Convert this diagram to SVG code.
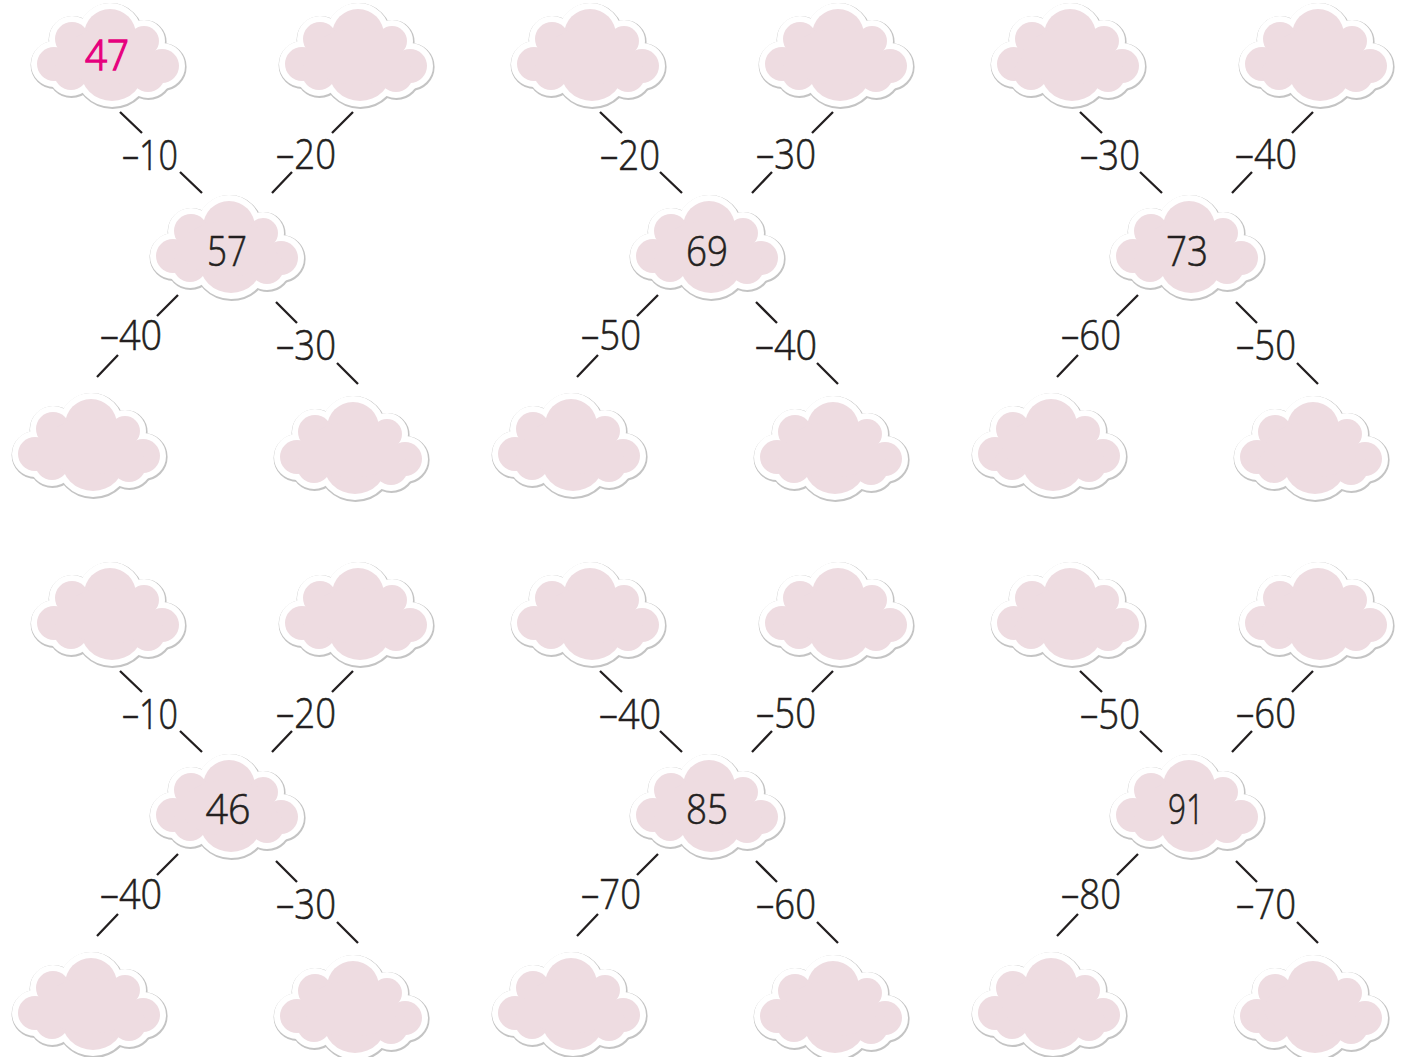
<svg xmlns="http://www.w3.org/2000/svg" xmlns:xlink="http://www.w3.org/1999/xlink" width="1408" height="1057" viewBox="0 0 1408 1057">
<style>
.ln{stroke:#231f20;stroke-width:2.3;stroke-linecap:butt;fill:none}
.lb{font-family:"Open Sans","Liberation Sans",Arial,sans-serif;font-weight:300;font-size:42px;fill:#231f20;stroke:#231f20;stroke-width:0.6;text-anchor:middle}
.num{font-family:"Open Sans","Liberation Sans",Arial,sans-serif;font-weight:300;font-size:42px;fill:#231f20;stroke:#231f20;stroke-width:0.6;text-anchor:middle}
.pk{fill:#e6007e;stroke:#e6007e;stroke-width:1.4}
</style>
<defs>
<g id="cshape">
<circle cx="2" cy="-20" r="26"/>
<circle cx="-36" cy="-16" r="17"/>
<circle cx="36" cy="-14" r="15"/>
<circle cx="-54" cy="9" r="17"/>
<circle cx="54" cy="11" r="17"/>
<circle cx="-37" cy="18" r="17"/>
<circle cx="4" cy="14" r="32"/>
<circle cx="40" cy="20" r="17"/>
<ellipse cx="0" cy="2" rx="46" ry="28"/>
</g>
<symbol id="cloud" overflow="visible">
<g fill="#c4c4c4" stroke="#c4c4c4" stroke-width="14" transform="translate(0.6,1)"><use xlink:href="#cshape"/></g>
<g fill="#ffffff" stroke="#ffffff" stroke-width="12"><use xlink:href="#cshape"/></g>
<g fill="#eedce1"><use xlink:href="#cshape"/></g>
</symbol>
</defs>
<rect width="1408" height="1057" fill="#ffffff"/>

<g id="connectors">
<path class="ln" d="M120 112L142 133M180 172L202 193M353 112L332 133M292 172L272 193M178 295L157 316M118 355L97 377M276 302L297 323M337 363L358 384"/>
<path class="ln" d="M600 112L622 133M660 172L682 193M833 112L812 133M772 172L752 193M658 295L637 316M598 355L577 377M756 302L777 323M817 363L838 384"/>
<path class="ln" d="M1080 112L1102 133M1140 172L1162 193M1313 112L1292 133M1252 172L1232 193M1138 295L1117 316M1078 355L1057 377M1236 302L1257 323M1297 363L1318 384"/>
<path class="ln" d="M120 671L142 692M180 731L202 752M353 671L332 692M292 731L272 752M178 854L157 875M118 914L97 936M276 861L297 882M337 922L358 943"/>
<path class="ln" d="M600 671L622 692M660 731L682 752M833 671L812 692M772 731L752 752M658 854L637 875M598 914L577 936M756 861L777 882M817 922L838 943"/>
<path class="ln" d="M1080 671L1102 692M1140 731L1162 752M1313 671L1292 692M1252 731L1232 752M1138 854L1117 875M1078 914L1057 936M1236 861L1257 882M1297 922L1318 943"/>

<text class="lb" x="150" y="170" textLength="56" lengthAdjust="spacingAndGlyphs">–10</text>
<text class="lb" x="306" y="169" textLength="60" lengthAdjust="spacingAndGlyphs">–20</text>
<text class="lb" x="131" y="350" textLength="62" lengthAdjust="spacingAndGlyphs">–40</text>
<text class="lb" x="306" y="360" textLength="60" lengthAdjust="spacingAndGlyphs">–30</text>

<text class="lb" x="630" y="170" textLength="60" lengthAdjust="spacingAndGlyphs">–20</text>
<text class="lb" x="786" y="169" textLength="60" lengthAdjust="spacingAndGlyphs">–30</text>
<text class="lb" x="611" y="350" textLength="60" lengthAdjust="spacingAndGlyphs">–50</text>
<text class="lb" x="786" y="360" textLength="62" lengthAdjust="spacingAndGlyphs">–40</text>

<text class="lb" x="1110" y="170" textLength="60" lengthAdjust="spacingAndGlyphs">–30</text>
<text class="lb" x="1266" y="169" textLength="62" lengthAdjust="spacingAndGlyphs">–40</text>
<text class="lb" x="1091" y="350" textLength="60" lengthAdjust="spacingAndGlyphs">–60</text>
<text class="lb" x="1266" y="360" textLength="60" lengthAdjust="spacingAndGlyphs">–50</text>

<text class="lb" x="150" y="729" textLength="56" lengthAdjust="spacingAndGlyphs">–10</text>
<text class="lb" x="306" y="728" textLength="60" lengthAdjust="spacingAndGlyphs">–20</text>
<text class="lb" x="131" y="909" textLength="62" lengthAdjust="spacingAndGlyphs">–40</text>
<text class="lb" x="306" y="919" textLength="60" lengthAdjust="spacingAndGlyphs">–30</text>

<text class="lb" x="630" y="729" textLength="62" lengthAdjust="spacingAndGlyphs">–40</text>
<text class="lb" x="786" y="728" textLength="60" lengthAdjust="spacingAndGlyphs">–50</text>
<text class="lb" x="611" y="909" textLength="60" lengthAdjust="spacingAndGlyphs">–70</text>
<text class="lb" x="786" y="919" textLength="60" lengthAdjust="spacingAndGlyphs">–60</text>

<text class="lb" x="1110" y="729" textLength="60" lengthAdjust="spacingAndGlyphs">–50</text>
<text class="lb" x="1266" y="728" textLength="60" lengthAdjust="spacingAndGlyphs">–60</text>
<text class="lb" x="1091" y="909" textLength="60" lengthAdjust="spacingAndGlyphs">–80</text>
<text class="lb" x="1266" y="919" textLength="60" lengthAdjust="spacingAndGlyphs">–70</text>
</g>

<g id="p1-tl"><use xlink:href="#cloud" x="108" y="55"/><text class="num pk" x="107" y="70" textLength="44" lengthAdjust="spacingAndGlyphs">47</text></g>
<g id="p1-tr"><use xlink:href="#cloud" x="356" y="55"/></g>
<g id="p1-c"><use xlink:href="#cloud" x="227" y="247"/><text class="num" x="227" y="266" textLength="40" lengthAdjust="spacingAndGlyphs">57</text></g>
<g id="p1-bl"><use xlink:href="#cloud" x="89" y="445"/></g>
<g id="p1-br"><use xlink:href="#cloud" x="351" y="448"/></g>

<g id="p2-tl"><use xlink:href="#cloud" x="588" y="55"/></g>
<g id="p2-tr"><use xlink:href="#cloud" x="836" y="55"/></g>
<g id="p2-c"><use xlink:href="#cloud" x="707" y="247"/><text class="num" x="707" y="266" textLength="42" lengthAdjust="spacingAndGlyphs">69</text></g>
<g id="p2-bl"><use xlink:href="#cloud" x="569" y="445"/></g>
<g id="p2-br"><use xlink:href="#cloud" x="831" y="448"/></g>

<g id="p3-tl"><use xlink:href="#cloud" x="1068" y="55"/></g>
<g id="p3-tr"><use xlink:href="#cloud" x="1316" y="55"/></g>
<g id="p3-c"><use xlink:href="#cloud" x="1187" y="247"/><text class="num" x="1187" y="266" textLength="42" lengthAdjust="spacingAndGlyphs">73</text></g>
<g id="p3-bl"><use xlink:href="#cloud" x="1049" y="445"/></g>
<g id="p3-br"><use xlink:href="#cloud" x="1311" y="448"/></g>

<g id="p4-tl"><use xlink:href="#cloud" x="108" y="614"/></g>
<g id="p4-tr"><use xlink:href="#cloud" x="356" y="614"/></g>
<g id="p4-c"><use xlink:href="#cloud" x="227" y="806"/><text class="num" x="228" y="824" textLength="45" lengthAdjust="spacingAndGlyphs">46</text></g>
<g id="p4-bl"><use xlink:href="#cloud" x="89" y="1004"/></g>
<g id="p4-br"><use xlink:href="#cloud" x="351" y="1007"/></g>

<g id="p5-tl"><use xlink:href="#cloud" x="588" y="614"/></g>
<g id="p5-tr"><use xlink:href="#cloud" x="836" y="614"/></g>
<g id="p5-c"><use xlink:href="#cloud" x="707" y="806"/><text class="num" x="707" y="824" textLength="42" lengthAdjust="spacingAndGlyphs">85</text></g>
<g id="p5-bl"><use xlink:href="#cloud" x="569" y="1004"/></g>
<g id="p5-br"><use xlink:href="#cloud" x="831" y="1007"/></g>

<g id="p6-tl"><use xlink:href="#cloud" x="1068" y="614"/></g>
<g id="p6-tr"><use xlink:href="#cloud" x="1316" y="614"/></g>
<g id="p6-c"><use xlink:href="#cloud" x="1187" y="806"/><text class="num" x="1186" y="824" textLength="36" lengthAdjust="spacingAndGlyphs">91</text></g>
<g id="p6-bl"><use xlink:href="#cloud" x="1049" y="1004"/></g>
<g id="p6-br"><use xlink:href="#cloud" x="1311" y="1007"/></g>
</svg>
